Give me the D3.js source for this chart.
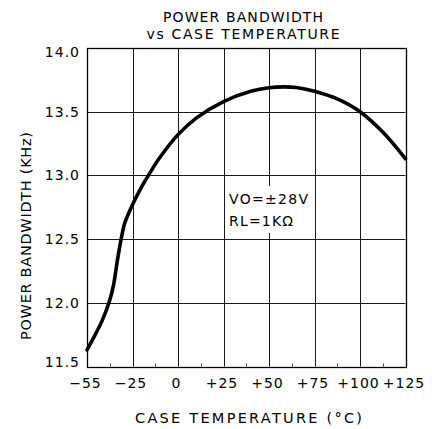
<!DOCTYPE html>
<html>
<head>
<meta charset="utf-8">
<script src="https://cdn.jsdelivr.net/npm/d3@7"></script>
<style>
  html, body { margin: 0; padding: 0; background: #fff; }
  svg { display: block; }
  text { font-family: "DejaVu Sans", "Liberation Sans", sans-serif; fill: #000; }
</style>
</head>
<body>
<svg id="chart" width="432" height="429"></svg>
<script>
// ---- data ----
const xTicks = [-55, -25, 0, 25, 50, 75, 100, 125];
const xTickLabels = ["\u221255", "\u221225", "0", "+25", "+50", "+75", "+100", "+125"];
const yTicks = [11.5, 12.0, 12.5, 13.0, 13.5, 14.0];
const yTickLabels = ["11.5", "12.0", "12.5", "13.0", "13.5", "14.0"];
const temps = [-55, -50, -45, -40, -37.5, -35, -32.5, -30, -25, -20, -15, -10, 0, 10, 25, 40, 50, 58, 65, 75, 87.5, 100, 112.5, 125];
const bandwidth = [11.63, 11.74, 11.86, 12.02, 12.14, 12.33, 12.5, 12.63, 12.77, 12.91, 13.03, 13.14, 13.32, 13.45, 13.58, 13.66, 13.688, 13.695, 13.69, 13.66, 13.6, 13.5, 13.34, 13.13];
const titleLines = ["POWER BANDWIDTH", "vs CASE TEMPERATURE"];
const xTitle = "CASE TEMPERATURE (\u00B0C)";
const yTitle = "POWER BANDWIDTH (KHz)";
const noteLines = ["VO=\u00B128V", "RL=1K\u03A9"];

// ---- layout ----
const L = 87, R = 405.5, T = 48, B = 366.5;
const col = (R - L) / 7;
const svg = d3.select("#chart");

// non-uniform temperature axis: -55..-25 occupies one division like each 25 degrees
const x = d3.scaleLinear().domain([-55, -25, 125]).range([L, L + col, R]);
const y = d3.scaleLinear().domain([11.5, 14]).range([B, T]);

const crisp = v => Math.round(v) + 0.5;

// grid
const g = svg.append("g");
g.selectAll("line.v").data(xTicks.slice(1, -1)).join("line")
  .attr("x1", d => crisp(x(d))).attr("x2", d => crisp(x(d)))
  .attr("y1", T).attr("y2", B)
  .attr("stroke", "#1a1a1a").attr("stroke-width", 1);
g.selectAll("line.h").data(yTicks.slice(1, -1)).join("line")
  .attr("x1", L).attr("x2", R)
  .attr("y1", d => crisp(y(d))).attr("y2", d => crisp(y(d)))
  .attr("stroke", "#1a1a1a").attr("stroke-width", 1);

// minor ticks at bottom midpoints
const mids = d3.pairs(xTicks).map(p => (x(p[0]) + x(p[1])) / 2);
g.selectAll("line.m").data(mids).join("line")
  .attr("x1", d => crisp(d)).attr("x2", d => crisp(d))
  .attr("y1", B - 3).attr("y2", B)
  .attr("stroke", "#444").attr("stroke-width", 1);

// annotation background (masks grid)
svg.append("rect").attr("x", 226).attr("y", 186).attr("width", 85).attr("height", 47).attr("fill", "#fff");

// frame
svg.append("rect").attr("x", crisp(L)).attr("y", crisp(T))
  .attr("width", Math.round(R) - Math.round(L)).attr("height", Math.round(B) - Math.round(T))
  .attr("fill", "none").attr("stroke", "#000").attr("stroke-width", 1.3);

// curve
const pts = temps.map((t, i) => [t, bandwidth[i]]);
svg.append("path").datum(pts)
  .attr("d", d3.line().x(d => x(d[0])).y(d => y(d[1])).curve(d3.curveCatmullRom.alpha(0.5)))
  .attr("fill", "none").attr("stroke", "#000").attr("stroke-width", 3.6)
  .attr("stroke-linecap", "round").attr("stroke-linejoin", "round");

// x tick labels
svg.selectAll("text.xt").data(xTicks).join("text")
  .attr("x", d => x(d) - 1.5).attr("y", 388)
  .attr("text-anchor", "middle").attr("font-size", 14).attr("letter-spacing", 1)
  .text((d, i) => xTickLabels[i]);

// y tick labels
const yOff = v => v === 14 ? 4 : (v === 11.5 ? -5 : 0);
svg.selectAll("text.yt").data(yTicks).join("text")
  .attr("x", 80).attr("y", d => y(d) + yOff(d) + 5)
  .attr("text-anchor", "end").attr("font-size", 14).attr("letter-spacing", 1)
  .text((d, i) => yTickLabels[i]);

// titles
const tl = [160, 193];
titleLines.forEach((s, i) => {
  svg.append("text").attr("x", 243).attr("y", 21.5 + i * 17)
    .attr("text-anchor", "middle").attr("font-size", 14)
    .attr("textLength", tl[i]).attr("lengthAdjust", "spacing").text(s);
});
svg.append("text").attr("x", 248.5).attr("y", 422.5)
  .attr("text-anchor", "middle").attr("font-size", 14.5)
  .attr("textLength", 227).attr("lengthAdjust", "spacing").text(xTitle);
svg.append("text").attr("transform", "translate(31,236) rotate(-90)")
  .attr("text-anchor", "middle").attr("font-size", 14.5)
  .attr("textLength", 208).attr("lengthAdjust", "spacing").text(yTitle);

// annotation
const nl = [79, 64];
noteLines.forEach((s, i) => {
  svg.append("text").attr("x", 229).attr("y", 203.5 + i * 22)
    .attr("font-size", 14).attr("textLength", nl[i]).attr("lengthAdjust", "spacing").text(s);
});
</script>
</body>
</html>
